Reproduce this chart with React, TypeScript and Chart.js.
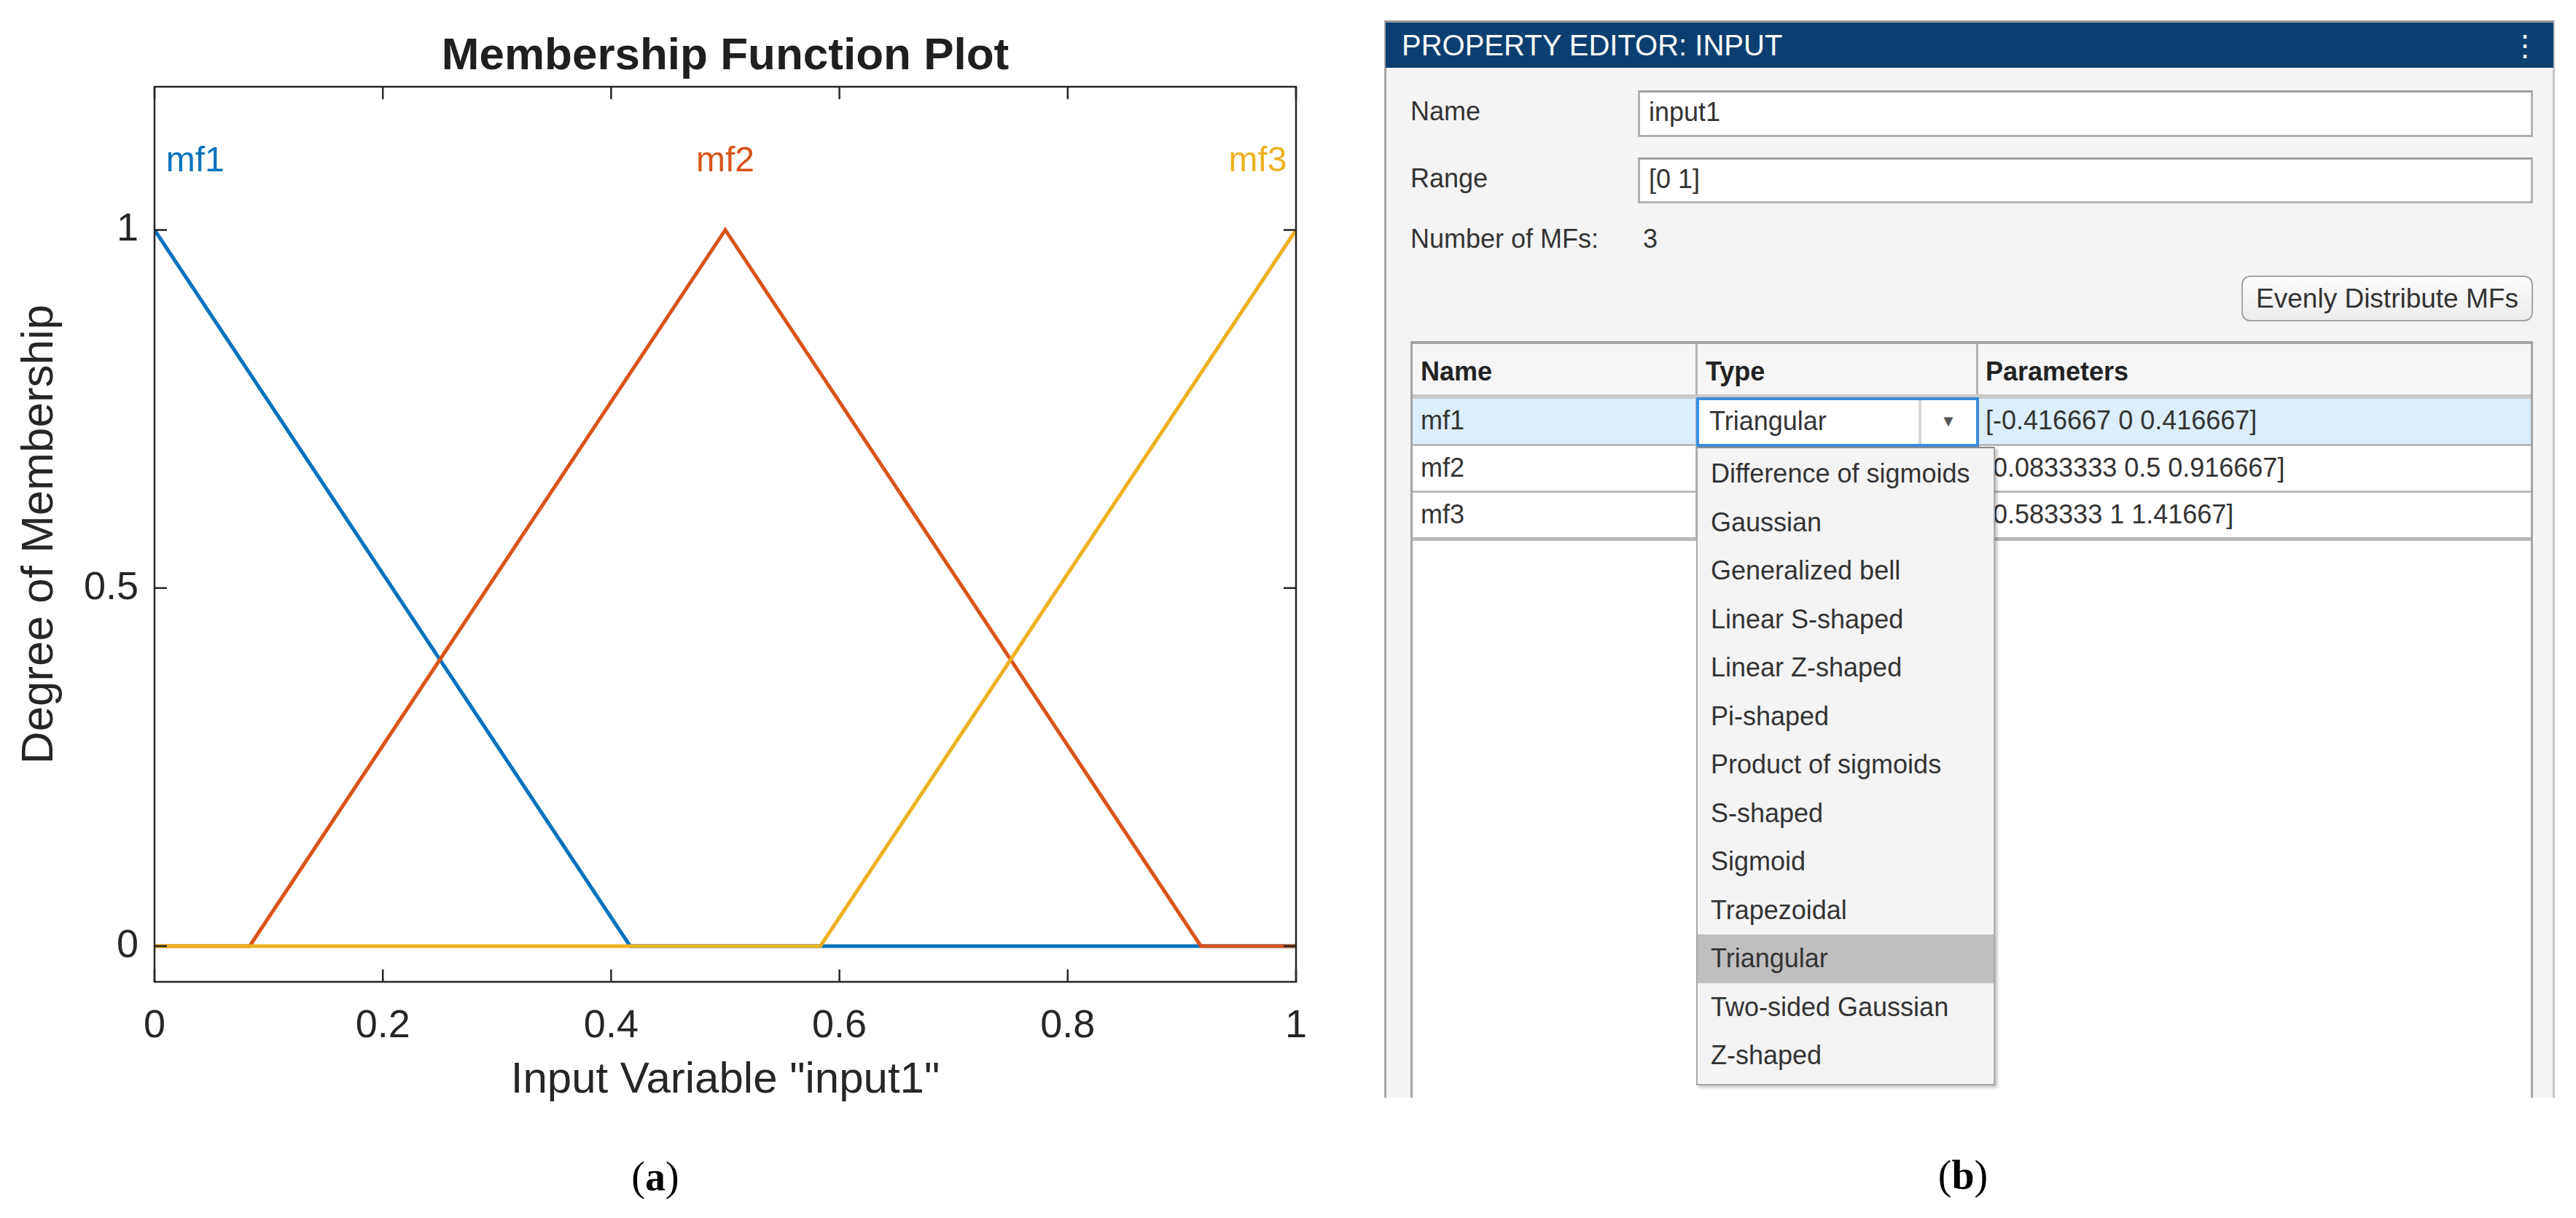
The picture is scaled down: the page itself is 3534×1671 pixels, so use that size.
import React, { useEffect, useRef } from 'react';
import { Chart, registerables } from 'chart.js';

Chart.register(...registerables);

const FONT = '"Liberation Sans", Arial, Helvetica, sans-serif';
const SERIF = '"Liberation Serif", "Times New Roman", serif';
const AXIS_COLOR = '#262626';

// ---- chart data ----
const mfNames = ['mf1', 'mf2', 'mf3'];
const mfColors = ['#0072BD', '#D95319', '#EDB120'];
const mf1X = [0, 0.416667, 1];
const mf1Y = [1, 0, 0];
const mf2X = [0, 0.0833333, 0.5, 0.916667, 1];
const mf2Y = [0, 0, 1, 0, 0];
const mf3X = [0, 0.583333, 1];
const mf3Y = [0, 0, 1];
const xTickValues = [0, 0.2, 0.4, 0.6, 0.8, 1];
const xTickLabels = ['0', '0.2', '0.4', '0.6', '0.8', '1'];
const yTickValues = [0, 0.5, 1];
const yTickLabels = ['0', '0.5', '1'];
const mfLabelX = [0.01, 0.5, 0.992];
const mfLabelY = [1.095, 1.095, 1.095];
const mfLabelAlign = ['left', 'center', 'right'];
const chartTitle = 'Membership Function Plot';
const xTitle = 'Input Variable "input1"';
const yTitle = 'Degree of Membership';

// ---- property editor content ----
const editorTitle = 'PROPERTY EDITOR: INPUT';
const nameValue = 'input1';
const rangeValue = '[0 1]';
const mfCount = '3';
const tableHeaders = ['Name', 'Type', 'Parameters'];
const rowNames = ['mf1', 'mf2', 'mf3'];
const rowParams = ['[-0.416667 0 0.416667]', '[0.0833333 0.5 0.916667]', '[0.583333 1 1.41667]'];
const mfTypes = [
  'Difference of sigmoids',
  'Gaussian',
  'Generalized bell',
  'Linear S-shaped',
  'Linear Z-shaped',
  'Pi-shaped',
  'Product of sigmoids',
  'S-shaped',
  'Sigmoid',
  'Trapezoidal',
  'Triangular',
  'Two-sided Gaussian',
  'Z-shaped',
];
const selectedType = 'Triangular';

const toPts = (xs: number[], ys: number[]) => xs.map((x, i) => ({ x, y: ys[i] }));

const matlabPlugin = {
  id: 'matlabBox',
  afterDatasetsDraw(chart: any) {
    const { ctx, chartArea: a, scales } = chart;
    const sx = scales.x;
    const sy = scales.y;
    ctx.save();
    ctx.strokeStyle = AXIS_COLOR;
    ctx.lineWidth = 2.5;
    ctx.strokeRect(a.left, a.top, a.right - a.left, a.bottom - a.top);
    const tl = 17;
    ctx.beginPath();
    xTickValues.forEach((v) => {
      const px = sx.getPixelForValue(v);
      ctx.moveTo(px, a.bottom);
      ctx.lineTo(px, a.bottom - tl);
      ctx.moveTo(px, a.top);
      ctx.lineTo(px, a.top + tl);
    });
    yTickValues.forEach((v) => {
      const py = sy.getPixelForValue(v);
      ctx.moveTo(a.left, py);
      ctx.lineTo(a.left + tl, py);
      ctx.moveTo(a.right, py);
      ctx.lineTo(a.right - tl, py);
    });
    ctx.stroke();
    // MF name labels
    ctx.font = `48px ${FONT}`;
    ctx.textBaseline = 'middle';
    mfNames.forEach((n, i) => {
      ctx.fillStyle = mfColors[i];
      ctx.textAlign = mfLabelAlign[i];
      ctx.fillText(n, sx.getPixelForValue(mfLabelX[i]), sy.getPixelForValue(mfLabelY[i]));
    });
    // plot title, centred over the axes
    ctx.font = `bold 62px ${FONT}`;
    ctx.fillStyle = '#1f1f1f';
    ctx.textAlign = 'center';
    ctx.textBaseline = 'alphabetic';
    ctx.fillText(chartTitle, (a.left + a.right) / 2, 95);
    ctx.restore();
  },
};

function MFChart() {
  const ref = useRef<HTMLCanvasElement | null>(null);
  useEffect(() => {
    if (!ref.current) return;
    const series = [toPts(mf1X, mf1Y), toPts(mf2X, mf2Y), toPts(mf3X, mf3Y)];
    const chart = new Chart(ref.current, {
      type: 'scatter',
      data: {
        datasets: series.map((d, i) => ({
          label: mfNames[i],
          data: d,
          showLine: true,
          borderColor: mfColors[i],
          backgroundColor: mfColors[i],
          borderWidth: 5,
          pointRadius: 0,
          order: 3 - i,
        })),
      },
      options: {
        animation: false,
        responsive: false,
        devicePixelRatio: 1,
        layout: { padding: { left: 0, top: 119, right: 72, bottom: 0 } },
        plugins: {
          legend: { display: false },
          tooltip: { enabled: false },
          title: { display: false },
        },
        scales: {
          x: {
            type: 'linear',
            min: 0,
            max: 1,
            afterBuildTicks: (s: any) => {
              s.ticks = xTickValues.map((v) => ({ value: v }));
            },
            afterFit: (s: any) => {
              s.height = 213;
              s.paddingLeft = 0;
              s.paddingRight = 0;
            },
            ticks: {
              color: AXIS_COLOR,
              font: { family: FONT, size: 54 },
              padding: 29,
              maxRotation: 0,
              autoSkip: false,
              callback: (_v: any, i: number) => xTickLabels[i],
            },
            grid: { display: false, drawTicks: false },
            border: { display: false },
            title: {
              display: true,
              text: xTitle,
              color: AXIS_COLOR,
              font: { family: FONT, size: 60 },
              padding: { top: 0, bottom: 42 },
            },
          },
          y: {
            type: 'linear',
            min: -0.05,
            max: 1.2,
            afterBuildTicks: (s: any) => {
              s.ticks = yTickValues.map((v) => ({ value: v }));
            },
            afterFit: (s: any) => {
              s.width = 212;
              s.paddingTop = 0;
              s.paddingBottom = 0;
            },
            ticks: {
              color: AXIS_COLOR,
              font: { family: FONT, size: 54 },
              padding: 22,
              autoSkip: false,
              callback: (_v: any, i: number) => yTickLabels[i],
            },
            grid: { display: false, drawTicks: false },
            border: { display: false },
            title: {
              display: true,
              text: yTitle,
              color: AXIS_COLOR,
              font: { family: FONT, size: 62 },
              padding: { top: 18, bottom: 0 },
            },
          },
        },
      },
      plugins: [matlabPlugin],
    } as any);
    return () => chart.destroy();
  }, []);
  return (
    <canvas
      ref={ref}
      width={1850}
      height={1560}
      style={{ position: 'absolute', left: 0, top: 0, width: 1850, height: 1560 }}
    />
  );
}

const abs = (l: number, t: number, w: number, h: number, extra: any = {}) => ({
  position: 'absolute' as const,
  left: l,
  top: t,
  width: w,
  height: h,
  boxSizing: 'border-box' as const,
  ...extra,
});

function Txt({ x, cy, children, size = 36, extra = {} }: any) {
  const h = 60;
  return (
    <div
      style={{
        position: 'absolute',
        left: x,
        top: cy - h / 2,
        height: h,
        lineHeight: `${h}px`,
        fontSize: size,
        fontFamily: FONT,
        color: '#333',
        whiteSpace: 'nowrap',
        ...extra,
      }}
    >
      {children}
    </div>
  );
}

function PropertyEditor() {
  const rowTops = [547, 612, 676];
  const rowH = [65, 64, 64];
  return (
    <>
      {/* panel */}
      <div
        style={abs(1899, 28, 1606, 1478, {
          background: '#f4f4f4',
          borderLeft: '3px solid #a6a6a6',
          borderRight: '3px solid #c4c4c4',
          borderTop: '3px solid #9a9a9a',
        })}
      />
      <div style={abs(1901, 31, 1602, 62, { background: '#0c3f70' })} />
      <Txt x={1923} cy={62} size={40} extra={{ color: '#ffffff' }}>
        {editorTitle}
      </Txt>
      <Txt x={3444} cy={62} size={40} extra={{ color: '#ffffff' }}>
        ⋮
      </Txt>

      {/* fields */}
      <Txt x={1935} cy={153}>Name</Txt>
      <div style={abs(2247, 124, 1228, 64, { background: '#fff', border: '3px solid #b2b2b2', borderTopColor: '#a0a0a0' })} />
      <Txt x={2262} cy={154}>{nameValue}</Txt>
      <Txt x={1935} cy={245}>Range</Txt>
      <div style={abs(2247, 216, 1228, 63, { background: '#fff', border: '3px solid #b2b2b2', borderTopColor: '#a0a0a0' })} />
      <Txt x={2262} cy={246}>{rangeValue}</Txt>
      <Txt x={1935} cy={328}>Number of MFs:</Txt>
      <Txt x={2254} cy={328}>{mfCount}</Txt>

      {/* button */}
      <div
        style={abs(3075, 378, 400, 63, {
          border: '2px solid #a3a3a3',
          borderRadius: 12,
          background: 'linear-gradient(#fcfcfc, #ececec)',
          fontFamily: FONT,
          fontSize: 37,
          color: '#333',
          textAlign: 'center',
          lineHeight: '59px',
          whiteSpace: 'nowrap',
        })}
      >
        Evenly Distribute MFs
      </div>

      {/* table */}
      <div
        style={abs(1935, 468, 1540, 1038, {
          background: '#fff',
          borderLeft: '3px solid #a4a4a4',
          borderRight: '3px solid #a4a4a4',
          borderTop: '4px solid #a4a4a4',
        })}
      />
      <div style={abs(1938, 472, 1534, 70, { background: '#f6f6f6' })} />
      <div style={abs(1938, 541, 1534, 6, { background: '#c9c9c9' })} />
      <div style={abs(2326, 472, 3, 69, { background: '#b4b4b4' })} />
      <div style={abs(2711, 472, 3, 69, { background: '#b4b4b4' })} />
      {tableHeaders.map((h, i) => (
        <Txt key={h} x={[1949, 2340, 2724][i]} cy={510} extra={{ fontWeight: 'bold', color: '#222' }}>
          {h}
        </Txt>
      ))}
      <div style={abs(1938, 547, 1534, 65, { background: '#dcedfb' })} />
      {rowTops.map((t, i) => (
        <React.Fragment key={i}>
          <div style={abs(1938, t + rowH[i] - 3, 1534, i === 2 ? 5 : 3, { background: '#b9b9b9' })} />
          <div style={abs(2326, t, 3, rowH[i], { background: '#b9b9b9' })} />
          <div style={abs(2711, t, 3, rowH[i], { background: '#b9b9b9' })} />
          <Txt x={1949} cy={t + 30}>{rowNames[i]}</Txt>
          <Txt x={2724} cy={t + 30}>{rowParams[i]}</Txt>
        </React.Fragment>
      ))}

      {/* combobox */}
      <div style={abs(2327, 545, 388, 68, { background: '#fff', border: '4px solid #3c8edc' })} />
      <Txt x={2345} cy={578}>{selectedType}</Txt>
      <div style={abs(2632, 549, 4, 60, { background: '#d6d6d6' })} />
      <Txt x={2662} cy={578} size={22} extra={{ color: '#555' }}>
        ▼
      </Txt>

      {/* dropdown list */}
      <div
        style={abs(2327, 613, 410, 876, {
          background: '#f4f4f4',
          border: '2px solid #a9a9a9',
          borderTopColor: '#8a8a8a',
          boxShadow: '3px 3px 4px rgba(0,0,0,0.25)',
        })}
      />
      {mfTypes.map((t, i) => {
        const top = 617 + i * 66.5;
        return (
          <div
            key={t}
            style={abs(2329, top, 406, 66.5, {
              background: t === selectedType ? '#bfbfbf' : 'transparent',
              fontFamily: FONT,
              fontSize: 36,
              color: '#333',
              lineHeight: '66.5px',
              paddingLeft: 18,
              whiteSpace: 'nowrap',
            })}
          >
            {t}
          </div>
        );
      })}
    </>
  );
}

function Caption({ cx, cy, letter }: any) {
  return (
    <div
      style={{
        position: 'absolute',
        left: cx - 100,
        width: 200,
        top: cy - 40,
        height: 80,
        lineHeight: '80px',
        textAlign: 'center',
        fontFamily: SERIF,
        fontSize: 56,
        color: '#000',
      }}
    >
      (<b>{letter}</b>)
    </div>
  );
}

export default function App() {
  return (
    <div
      style={{
        position: 'fixed',
        left: 0,
        top: 0,
        width: 3534,
        height: 1671,
        background: '#ffffff',
        overflow: 'hidden',
      }}
    >
      <MFChart />
      <PropertyEditor />
      <Caption cx={899} cy={1614} letter="a" />
      <Caption cx={2693} cy={1612} letter="b" />
    </div>
  );
}
